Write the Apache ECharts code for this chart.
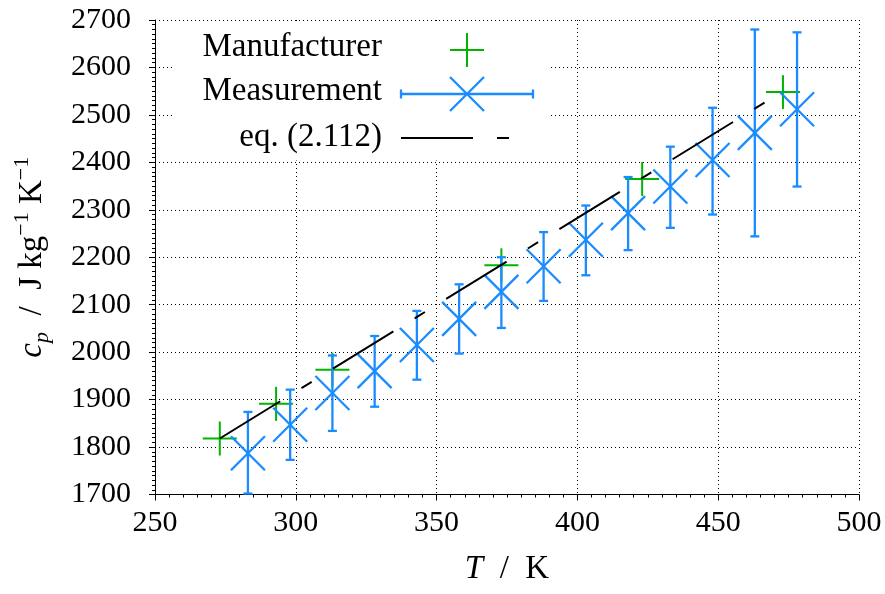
<!DOCTYPE html>
<html>
<head>
<meta charset="utf-8">
<script src="https://cdn.jsdelivr.net/npm/echarts@6/dist/echarts.min.js"></script>
<style>
  html, body { margin: 0; padding: 0; background: #fff; }
  #chart { width: 885px; height: 594px; }
</style>
</head>
<body>
<div id="chart"></div>
<script>
// ---- data ----
const mfrT  = [273, 293, 313, 373, 423, 473];
const mfrCp = [1818, 1891, 1963, 2183, 2365, 2548];

const measT    = [283, 298, 313, 328, 343, 358, 373, 388, 403, 418, 433, 448, 463, 478];
const measCp   = [1787, 1847, 1914, 1960, 2015, 2070, 2127, 2181, 2237, 2293, 2349, 2405, 2462, 2512];
const measLow  = [1702, 1773, 1834, 1885, 1942, 1997, 2051, 2108, 2162, 2215, 2262, 2290, 2244, 2349];
const measHigh = [1874, 1921, 1993, 2034, 2087, 2143, 2200, 2253, 2309, 2369, 2433, 2515, 2680, 2674];

const eqT  = [273, 373, 473];
const eqCp = [1818, 2184, 2550];

const legendNames = ['Manufacturer', 'Measurement', 'eq. (2.112)'];

// ---- styling ----
const FONT = 'Liberation Serif';
const GREEN = '#00b400';
const BLUE = '#1a8cff';
const NAME_SIZE = 33;

const chart = echarts.init(document.getElementById('chart'), null, { renderer: 'canvas' });

const mfrData = mfrT.map((t, i) => [t, mfrCp[i]]);
const measData = measT.map((t, i) => [t, measCp[i], measLow[i], measHigh[i]]);
const eqData = eqT.map((t, i) => [t, eqCp[i]]);

const option = {
  animation: false,
  backgroundColor: '#fff',
  grid: { left: 155, right: 26, top: 20, bottom: 99.5, containLabel: false },
  xAxis: {
    type: 'value', min: 250, max: 500, interval: 50,
    name: '{i|T}  /  K',
    nameLocation: 'middle', nameGap: 58,
    nameTextStyle: {
      fontFamily: FONT, fontSize: NAME_SIZE, color: '#000',
      rich: { i: { fontFamily: FONT, fontSize: NAME_SIZE, fontStyle: 'italic', color: '#000' } }
    },
    axisLine: { show: true, onZero: false, lineStyle: { color: '#000', width: 1 } },
    axisTick: { show: true, length: 6, lineStyle: { color: '#000', width: 1 } },
    minorTick: { show: true, splitNumber: 10, length: 3, lineStyle: { color: '#000', width: 1 } },
    axisLabel: { fontFamily: FONT, fontSize: 30, color: '#000', margin: 14, formatter: v => String(v) },
    splitLine: { show: true, lineStyle: { color: '#000', width: 1, type: [1, 3] } }
  },
  yAxis: {
    type: 'value', min: 1700, max: 2700, interval: 100,
    name: '{i|c}{sub|p}  /  J kg{sup|−1} K{sup|−1}',
    nameLocation: 'middle', nameGap: 102,
    nameTextStyle: {
      fontFamily: FONT, fontSize: NAME_SIZE, color: '#000', lineHeight: 42,
      rich: {
        i: { fontFamily: FONT, fontSize: NAME_SIZE, fontStyle: 'italic', color: '#000', lineHeight: 42 },
        sub: { fontFamily: FONT, fontSize: 22, fontStyle: 'italic', color: '#000', lineHeight: 26, verticalAlign: 'bottom' },
        sup: { fontFamily: FONT, fontSize: 22, color: '#000', lineHeight: 22, verticalAlign: 'top' }
      }
    },
    axisLine: { show: true, onZero: false, lineStyle: { color: '#000', width: 1 } },
    axisTick: { show: true, length: 6, lineStyle: { color: '#000', width: 1 } },
    minorTick: { show: true, splitNumber: 10, length: 3, lineStyle: { color: '#000', width: 1 } },
    axisLabel: { fontFamily: FONT, fontSize: 30, color: '#000', margin: 24, formatter: v => String(v) },
    splitLine: { show: true, lineStyle: { color: '#000', width: 1, type: [1, 3] } }
  },
  series: [
    {
      name: legendNames[0],
      type: 'custom',
      z: 3,
      data: mfrData,
      encode: { x: 0, y: 1 },
      renderItem: function (params, api) {
        const p = api.coord([api.value(0), api.value(1)]);
        const h = 17;
        const st = { stroke: GREEN, lineWidth: 2, fill: null };
        return {
          type: 'group',
          children: [
            { type: 'line', shape: { x1: p[0] - h, y1: p[1], x2: p[0] + h, y2: p[1] }, style: st },
            { type: 'line', shape: { x1: p[0], y1: p[1] - h, x2: p[0], y2: p[1] + h }, style: st }
          ]
        };
      }
    },
    {
      name: legendNames[1],
      type: 'custom',
      z: 4,
      data: measData,
      encode: { x: 0, y: [1, 2, 3] },
      renderItem: function (params, api) {
        const p = api.coord([api.value(0), api.value(1)]);
        const lo = api.coord([api.value(0), api.value(2)]);
        const hi = api.coord([api.value(0), api.value(3)]);
        const h = 17, cap = 4.5;
        const st = { stroke: BLUE, lineWidth: 2.3, fill: null };
        return {
          type: 'group',
          children: [
            { type: 'line', shape: { x1: p[0], y1: lo[1], x2: p[0], y2: hi[1] }, style: st },
            { type: 'line', shape: { x1: p[0] - cap, y1: lo[1], x2: p[0] + cap, y2: lo[1] }, style: st },
            { type: 'line', shape: { x1: p[0] - cap, y1: hi[1], x2: p[0] + cap, y2: hi[1] }, style: st },
            { type: 'line', shape: { x1: p[0] - h, y1: p[1] - h, x2: p[0] + h, y2: p[1] + h }, style: st },
            { type: 'line', shape: { x1: p[0] - h, y1: p[1] + h, x2: p[0] + h, y2: p[1] - h }, style: st }
          ]
        };
      }
    },
    {
      name: legendNames[2],
      type: 'line',
      z: 5,
      data: eqData,
      showSymbol: false,
      symbol: 'none',
      lineStyle: { color: '#000', width: 2, type: [71, 25, 12, 25], dashOffset: 0 }
    }
  ],
  graphic: [
    // legend background box (hides grid behind the key)
    { type: 'rect', z: 1, silent: true,
      shape: { x: 172, y: 21.5, width: 377, height: 139 },
      style: { fill: '#fff', stroke: null } },
    // legend texts
    { type: 'text', z: 10, x: 382, y: 47,
      style: { text: legendNames[0], font: NAME_SIZE + 'px "' + FONT + '"', fill: '#000', align: 'right', verticalAlign: 'middle' } },
    { type: 'text', z: 10, x: 382, y: 91,
      style: { text: legendNames[1], font: NAME_SIZE + 'px "' + FONT + '"', fill: '#000', align: 'right', verticalAlign: 'middle' } },
    { type: 'text', z: 10, x: 382, y: 137,
      style: { text: legendNames[2], font: NAME_SIZE + 'px "' + FONT + '"', fill: '#000', align: 'right', verticalAlign: 'middle' } },
    // Manufacturer key: green plus
    { type: 'line', z: 10, shape: { x1: 450, y1: 50, x2: 484, y2: 50 }, style: { stroke: GREEN, lineWidth: 2 } },
    { type: 'line', z: 10, shape: { x1: 467, y1: 33, x2: 467, y2: 67 }, style: { stroke: GREEN, lineWidth: 2 } },
    // Measurement key: blue X with horizontal bar
    { type: 'line', z: 10, shape: { x1: 401, y1: 94, x2: 533, y2: 94 }, style: { stroke: BLUE, lineWidth: 2.3 } },
    { type: 'line', z: 10, shape: { x1: 401, y1: 89.5, x2: 401, y2: 98.5 }, style: { stroke: BLUE, lineWidth: 2.3 } },
    { type: 'line', z: 10, shape: { x1: 533, y1: 89.5, x2: 533, y2: 98.5 }, style: { stroke: BLUE, lineWidth: 2.3 } },
    { type: 'line', z: 10, shape: { x1: 450, y1: 77, x2: 484, y2: 111 }, style: { stroke: BLUE, lineWidth: 2.3 } },
    { type: 'line', z: 10, shape: { x1: 450, y1: 111, x2: 484, y2: 77 }, style: { stroke: BLUE, lineWidth: 2.3 } },
    // eq. key: long-short dashed black line
    { type: 'line', z: 10, shape: { x1: 401, y1: 138, x2: 533, y2: 138 },
      style: { stroke: '#000', lineWidth: 2, lineDash: [72, 24, 12, 40] } }
  ]
};

chart.setOption(option);
</script>
</body>
</html>
